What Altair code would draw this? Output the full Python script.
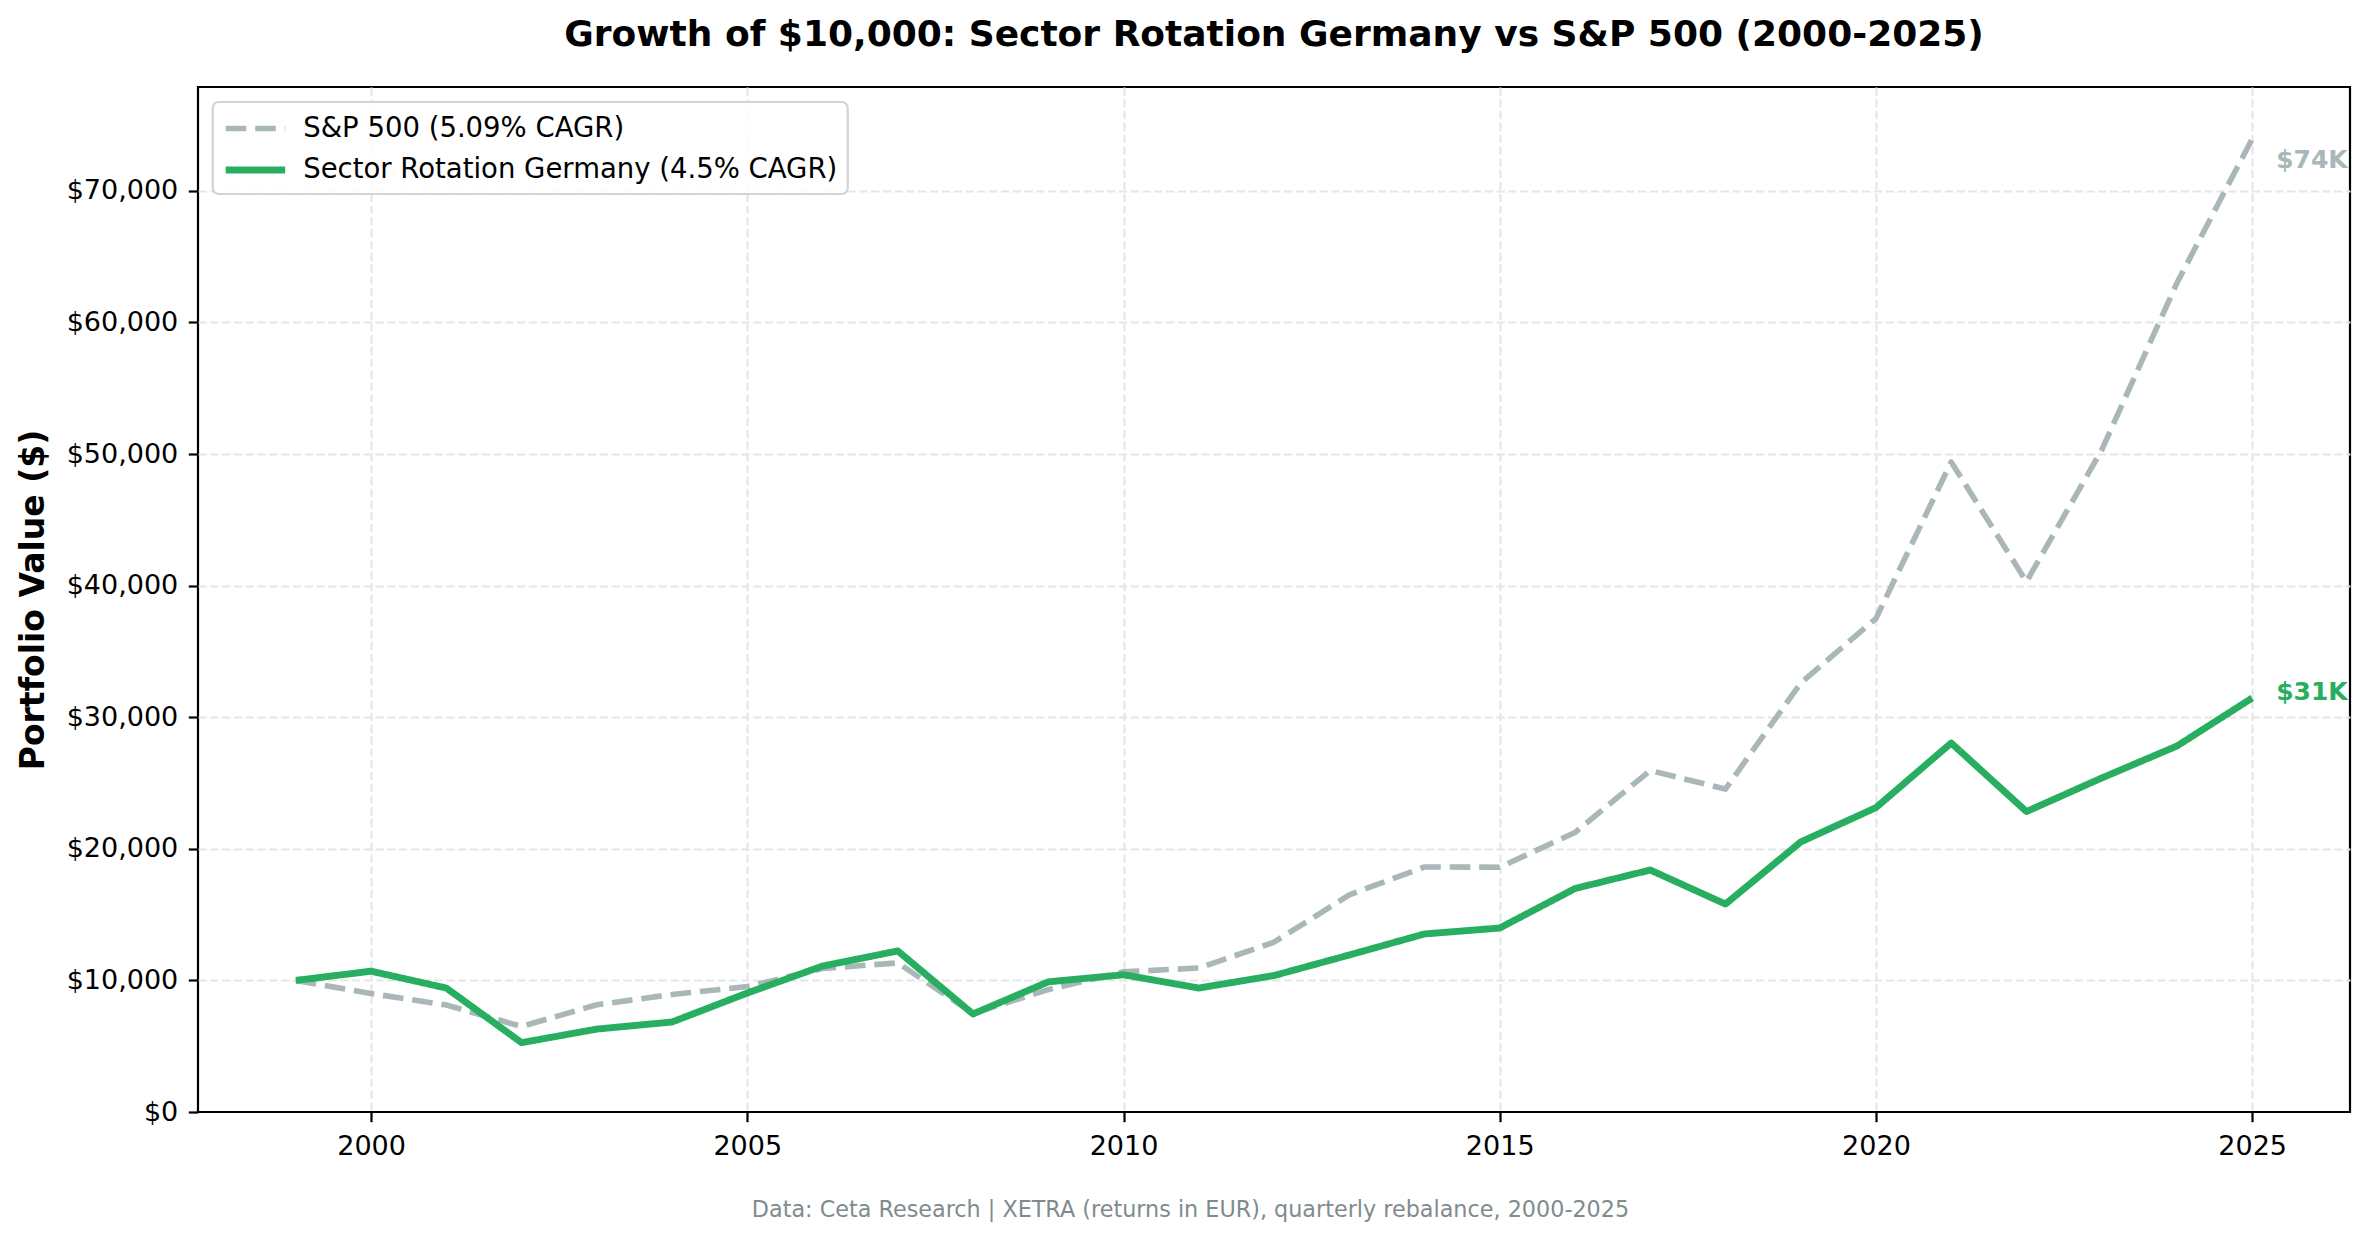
import altair as alt
import pandas as pd

# ---- data ----
years = [1999, 2000, 2001, 2002, 2003, 2004, 2005, 2006, 2007, 2008, 2009,
         2010, 2011, 2012, 2013, 2014, 2015, 2016, 2017, 2018, 2019, 2020,
         2021, 2022, 2023, 2024, 2025]
sp500 = [10000, 9000, 8130, 6500, 8150, 8930, 9530, 10900, 11330, 7500, 9300,
         10650, 10940, 12900, 16500, 18620, 18600, 21240, 25950, 24540, 32600,
         37500, 49400, 40300, 50300, 63000, 73950]
germany = [10000, 10700, 9420, 5270, 6300, 6840, 9040, 11090, 12240, 7450, 9890,
           10430, 9420, 10370, 11930, 13530, 13980, 16980, 18390, 15800, 20520,
           23130, 28040, 22830, 25380, 27810, 31460]

series_names = ["S&P 500 (5.09% CAGR)", "Sector Rotation Germany (4.5% CAGR)"]
series_colors = ["#aab7b8", "#27ae60"]
x_ticks = [2000, 2005, 2010, 2015, 2020, 2025]
y_ticks = [0, 10000, 20000, 30000, 40000, 50000, 60000, 70000]

title_text = "Growth of $10,000: Sector Rotation Germany vs S&P 500 (2000-2025)"
y_title = "Portfolio Value ($)"
footnote = "Data: Ceta Research | XETRA (returns in EUR), quarterly rebalance, 2000-2025"

rows = []
for y, v in zip(years, sp500):
    rows.append({"year": y, "value": v, "series": series_names[0]})
for y, v in zip(years, germany):
    rows.append({"year": y, "value": v, "series": series_names[1]})
df = pd.DataFrame(rows)

FONT = "DejaVu Sans"

x_enc = alt.X(
    "year:Q",
    scale=alt.Scale(domain=[1997.7, 2026.3], nice=False, zero=False),
    axis=alt.Axis(
        values=x_ticks, format="d", title=footnote,
        titleFontSize=22.3, titleColor="#7f8c8d", titleFontWeight="normal",
        titleFont=FONT, titleX=992, titleY=104, titleAlign="center",
        titleBaseline="alphabetic", labelPadding=12,
    ),
)
y_enc = alt.Y(
    "value:Q",
    scale=alt.Scale(domain=[0, 77890], nice=False, zero=True),
    axis=alt.Axis(
        values=y_ticks, format="$,.0f", title=y_title,
        titleFontSize=33, titleFontWeight="bold", titleFont=FONT,
        titleColor="black", titleAngle=270, titleX=-155, titleY=512.5,
        titleAlign="center", titleBaseline="alphabetic", labelPadding=10.5,
        gridOpacity={"condition": {"test": "datum.value === 0", "value": 0}, "value": 1},
    ),
)

color_enc = alt.Color(
    "series:N",
    scale=alt.Scale(domain=series_names, range=series_colors),
    legend=alt.Legend(title=None),
)
dash_enc = alt.StrokeDash(
    "series:N",
    scale=alt.Scale(domain=series_names, range=[[20.6, 8.9], [1, 0]]),
    legend=alt.Legend(title=None),
)
width_enc = alt.StrokeWidth(
    "series:N",
    scale=alt.Scale(domain=series_names, range=[5.6, 6.9]),
    legend=alt.Legend(title=None),
)

base = alt.Chart(df)

line_sp = base.transform_filter(
    alt.datum.series == series_names[0]
).mark_line(strokeJoin="round", strokeCap="butt").encode(
    x=x_enc, y=y_enc, color=color_enc, strokeDash=dash_enc, strokeWidth=width_enc
)
line_de = base.transform_filter(
    alt.datum.series == series_names[1]
).mark_line(strokeJoin="round", strokeCap="butt").encode(
    x=x_enc, y=y_enc, color=color_enc, strokeDash=dash_enc, strokeWidth=width_enc
)

label_base = base.transform_filter(alt.datum.year == years[-1]).transform_calculate(
    lab="'$' + format(datum.value / 1000, '.0f') + 'K'"
)
lab_sp = label_base.transform_filter(alt.datum.series == series_names[0]).mark_text(
    align="left", baseline="alphabetic", dx=24, dy=29.5,
    fontSize=25, fontWeight="bold", font=FONT, color=series_colors[0],
).encode(x="year:Q", y="value:Q", text="lab:N")
lab_de = label_base.transform_filter(alt.datum.series == series_names[1]).mark_text(
    align="left", baseline="alphabetic", dx=24, dy=2,
    fontSize=25, fontWeight="bold", font=FONT, color=series_colors[1],
).encode(x="year:Q", y="value:Q", text="lab:N")

chart = alt.layer(line_sp, line_de, lab_sp, lab_de).properties(
    width=2152,
    height=1025,
    background="white",
    title=alt.TitleParams(
        text=title_text, fontSize=36, fontWeight="bold", font=FONT,
        color="black", anchor="middle", frame="group", offset=5,
        baseline="alphabetic",
    ),
    autosize=alt.AutoSizeParams(type="none"),
    padding={"left": 190, "top": 79, "right": 12, "bottom": 127},
).configure_view(
    stroke="black", strokeWidth=2.2
).configure_axis(
    labelFont=FONT, labelFontSize=27, labelColor="black",
    tickColor="black", tickWidth=2.2, tickSize=9.7,
    domain=False, grid=True, gridColor="#e6e6e6", gridDash=[8.2, 3.6],
    gridWidth=2.2,
).configure_legend(
    orient="none", legendX=14.7, legendY=15,
    labelFont=FONT, labelFontSize=27.5, labelColor="black", labelLimit=2000,
    symbolType="M-1,0L3.25,0", symbolSize=784,
    padding=9.5, rowPadding=10, labelOffset=46,
    fillColor="rgba(255,255,255,0.85)", strokeColor="#d3d3d3",
    cornerRadius=6, strokeWidth=2.2,
)

chart.save("out.html", embed_options={"renderer": "svg", "actions": False})
